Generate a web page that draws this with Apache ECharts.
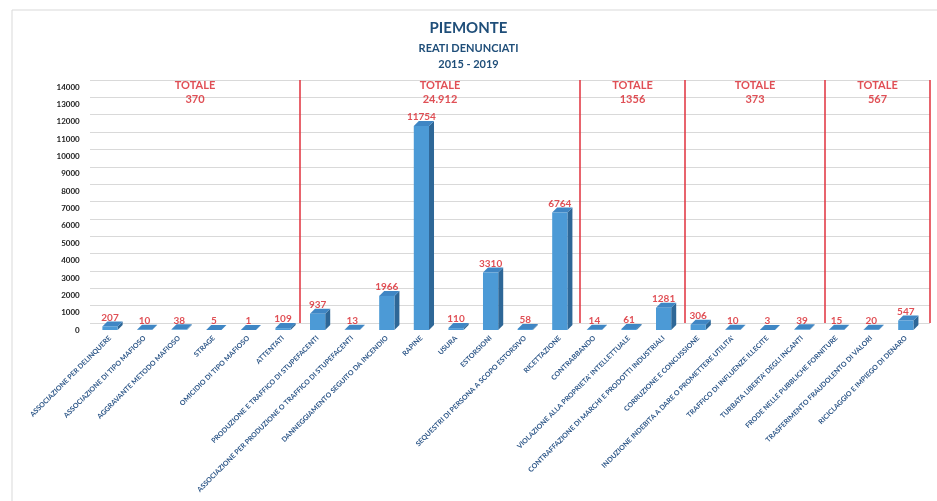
<!DOCTYPE html>
<html>
<head>
<meta charset="utf-8">
<title>Piemonte - reati denunciati</title>
<script src="https://cdn.jsdelivr.net/npm/echarts@6/dist/echarts.min.js"></script>
<style>
html, body { margin: 0; padding: 0; background: #fff; }
#main { width: 937px; height: 501px; }
</style>
</head>
<body>
<div id="main"></div>
<script>
// categorie (reati)
var reati = [ 'ASSOCIAZIONE PER DELINQUERE', 'ASSOCIAZIONE DI TIPO MAFIOSO',
		'AGGRAVANTE METODO MAFIOSO', 'STRAGE', 'OMICIDIO DI TIPO MAFIOSO',
		'ATTENTATI', 'PRODUZIONE E TRAFFICO DI STUPEFACENTI',
		'ASSOCIAZIONE PER PRODUZIONE O TRAFFICO DI STUPEFACENTI',
		'DANNEGGIAMENTO SEGUITO DA INCENDIO', 'RAPINE', 'USURA', 'ESTORSIONI',
		'SEQUESTRI DI PERSONA A SCOPO ESTORSIVO', 'RICETTAZIONE',
		'CONTRABBANDO', "VIOLAZIONE ALLA PROPRIETA' INTELLETTUALE",
		'CONTRAFFAZIONE DI MARCHI E PRODOTTI INDUSTRIALI',
		'CORRUZIONE E CONCUSSIONE',
		"INDUZIONE INDEBITA A DARE O PROMETTERE UTILITA'",
		'TRAFFICO DI INFLUENZE ILLECITE', "TURBATA LIBERTA' DEGLI INCANTI",
		'FRODE NELLE PUBBLICHE FORNITURE', 'TRASFERIMENTO FRAUDOLENTO DI VALORI',
		'RICICLAGGIO E IMPIEGO DI DENARO' ];
// numero reati denunciati 2015-2019
var denunce = [ 207, 10, 38, 5, 1, 109, 937, 13, 1966, 11754, 110, 3310, 58,
		6764, 14, 61, 1281, 306, 10, 3, 39, 15, 20, 547 ];
// confini dei gruppi (indice categoria) e totali
var gruppiConfini = [ 0, 6, 14, 17, 21, 24 ];
var gruppiTotali = [ '370', '24.912', '1356', '373', '567' ];
// tacche asse y
var yMax = 14000;
var yStep = 1000;

var rosso = '#d8232a';
var blu = '#1f4e79';

var barData = [];
for (var i = 0; i < denunce.length; i++) {
	barData.push([ i, denunce[i] ]);
}
var totaliData = [];
for (var g = 0; g < gruppiTotali.length; g++) {
	totaliData.push([ (gruppiConfini[g] + gruppiConfini[g + 1]) / 2, yMax ]);
}
var separatori = [];
for (var s = 1; s < gruppiConfini.length; s++) {
	separatori.push({ xAxis : gruppiConfini[s] });
}

// barra "3D" stile excel
function renderBar3d(params, api) {
	var top = api.coord([ api.value(0), api.value(1) ]);
	var base = api.coord([ api.value(0), 0 ]);
	var w = api.size([ 1, 0 ])[0] * 0.44;
	var d = 5;
	var x0 = top[0] - w / 2;
	var x1 = top[0] + w / 2;
	return {
		type : 'group',
		children : [ {
			type : 'polygon',
			shape : {
				points : [ [ x1, top[1] ], [ x1 + d, top[1] - d ],
						[ x1 + d, base[1] - d ], [ x1, base[1] ] ]
			},
			style : { fill : '#2e6797' }
		}, {
			type : 'polygon',
			shape : {
				points : [ [ x0, top[1] ], [ x0 + d, top[1] - d ],
						[ x1 + d, top[1] - d ], [ x1, top[1] ] ]
			},
			style : { fill : '#3f86c4' }
		}, {
			type : 'rect',
			shape : { x : x0, y : top[1], width : w, height : base[1] - top[1] },
			style : { fill : '#4c9ad6' }
		} ]
	};
}

var chart = echarts.init(document.getElementById('main'));
var option = {
	backgroundColor : '#fff',
	animation : false,
	textStyle : { fontFamily : 'Lato' },
	title : [ {
		text : 'PIEMONTE',
		left : 'center',
		top : 16,
		textStyle : { color : blu, fontSize : 15, fontWeight : 'bold', fontFamily : 'Lato' }
	}, {
		text : 'REATI DENUNCIATI',
		left : 'center',
		top : 38,
		textStyle : { color : blu, fontSize : 11, fontWeight : 'bold', fontFamily : 'Lato' }
	}, {
		text : '2015 - 2019',
		left : 'center',
		top : 54,
		textStyle : { color : blu, fontSize : 11, fontWeight : 'bold', fontFamily : 'Lato' }
	} ],
	graphic : [ {
		type : 'rect',
		shape : { x : 12, y : 10, width : 940, height : 500 },
		style : { fill : 'none', stroke : '#d9d9d9', lineWidth : 1 },
		silent : true
	} ],
	grid : [ {
		left : 92.7,
		right : 13.9,
		top : 87,
		bottom : 171
	}, {
		left : 90,
		right : 7,
		top : 80,
		bottom : 178
	} ],
	xAxis : [ {
		type : 'category',
		gridIndex : 0,
		data : reati,
		axisLine : { show : false },
		axisTick : { show : false },
		axisLabel : {
			interval : 0,
			rotate : 45,
			margin : 7,
			fontSize : 7,
			fontWeight : 'bold',
			color : '#2a5486',
			fontFamily : 'Lato'
		}
	}, {
		type : 'value',
		gridIndex : 1,
		min : 0,
		max : 24,
		show : false
	} ],
	yAxis : [ {
		type : 'value',
		gridIndex : 0,
		min : 0,
		max : yMax,
		interval : yStep,
		axisLine : { show : false },
		axisTick : { show : false },
		splitLine : { show : false },
		axisLabel : {
			margin : 13,
			fontSize : 8,
			fontWeight : 'bold',
			color : '#222',
			fontFamily : 'Lato',
			formatter : function(v) {
				return String(v);
			}
		}
	}, {
		type : 'value',
		gridIndex : 1,
		min : 0,
		max : yMax,
		interval : yStep,
		axisLine : { show : false },
		axisTick : { show : false },
		axisLabel : { show : false },
		splitLine : { lineStyle : { color : '#d9d9d9', width : 1 } }
	} ],
	series : [ {
		name : 'separatori',
		type : 'scatter',
		xAxisIndex : 1,
		yAxisIndex : 1,
		symbolSize : 0,
		data : totaliData,
		label : {
			show : true,
			position : 'inside',
			offset : [ 0, 12 ],
			lineHeight : 14,
			fontSize : 11,
			fontWeight : 'bold',
			color : rosso,
			fontFamily : 'Lato',
			formatter : function(p) {
				return 'TOTALE\n' + gruppiTotali[p.dataIndex];
			}
		},
		markLine : {
			silent : true,
			symbol : 'none',
			label : { show : false },
			lineStyle : { color : '#e0303c', width : 1.5, type : 'solid' },
			data : separatori
		}
	}, {
		name : 'Reati denunciati',
		type : 'custom',
		xAxisIndex : 0,
		yAxisIndex : 0,
		renderItem : renderBar3d,
		encode : { x : 0, y : 1 },
		data : barData
	}, {
		name : 'etichette',
		type : 'scatter',
		xAxisIndex : 0,
		yAxisIndex : 0,
		symbolSize : 0,
		data : barData,
		label : {
			show : true,
			position : 'top',
			distance : 4,
			fontSize : 10,
			fontWeight : 'bold',
			color : rosso,
			fontFamily : 'Lato',
			formatter : function(p) {
				return p.value[1];
			}
		}
	} ]
};
chart.setOption(option);
</script>
</body>
</html>
